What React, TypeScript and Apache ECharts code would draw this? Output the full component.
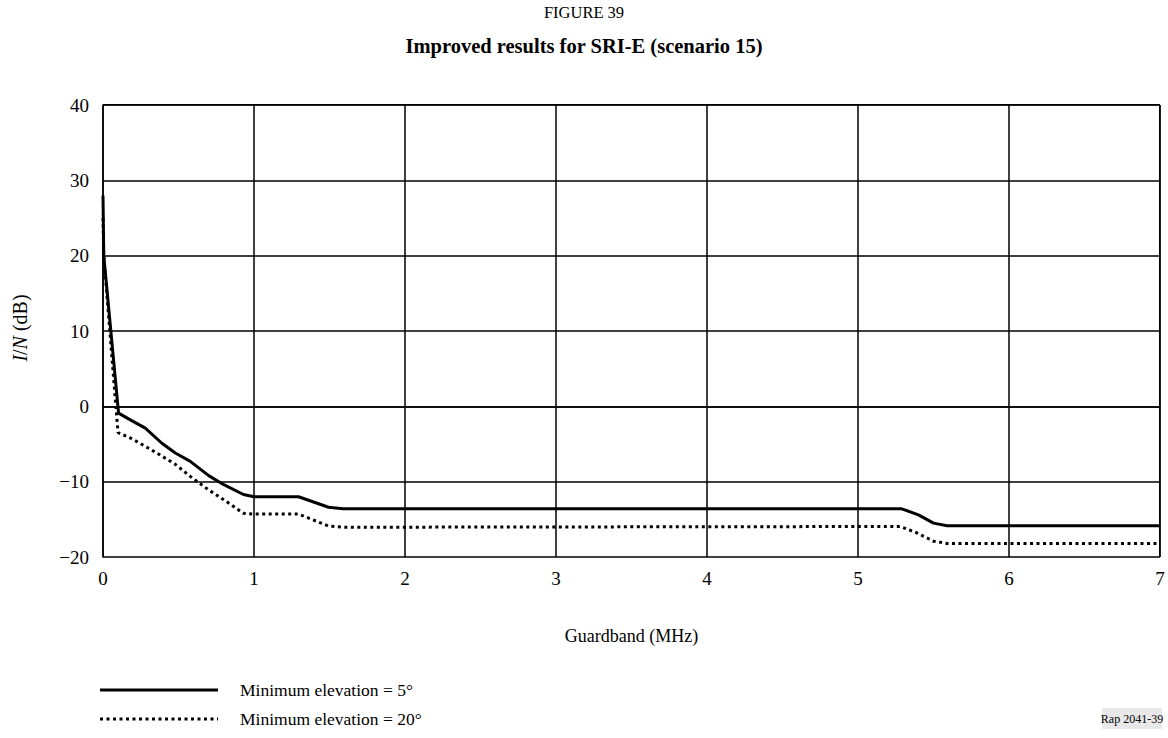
import React, { useEffect, useRef } from "react";
import * as echarts from "echarts";

const xTicks = [0, 1, 2, 3, 4, 5, 6, 7];
const yTicks = [-20, -10, 0, 10, 20, 30, 40];

const elev5X = [0, 0.005, 0.103, 0.181, 0.28, 0.39, 0.479, 0.578, 0.7, 0.8, 0.93, 1.0, 1.295, 1.494, 1.59, 5.29, 5.4, 5.5, 5.59, 7];
const elev5Y = [28, 20, -0.9, -1.8, -2.9, -4.9, -6.2, -7.3, -9.2, -10.4, -11.7, -12, -12, -13.4, -13.6, -13.6, -14.4, -15.5, -15.85, -15.85];

const elev20X = [0, 0.005, 0.095, 0.1, 0.181, 0.28, 0.39, 0.479, 0.578, 0.7, 0.8, 0.93, 1.0, 1.295, 1.494, 1.59, 5.28, 5.39, 5.5, 5.59, 7];
const elev20Y = [25, 20, -2.4, -3.5, -4.2, -5.3, -6.6, -7.7, -9.3, -11.1, -12.4, -14.2, -14.3, -14.3, -15.9, -16.05, -15.95, -16.8, -17.9, -18.2, -18.2];

const seriesNames = ["Minimum elevation = 5°", "Minimum elevation = 20°"];
const titleLines = ["FIGURE 39", "Improved results for SRI-E (scenario 15)"];
const xAxisName = "Guardband (MHz)";
const refLabel = "Rap 2041-39";

const FONT = "'Liberation Serif', 'Times New Roman', serif";

export default function App() {
  const ref = useRef<HTMLDivElement>(null);
  useEffect(() => {
    if (!ref.current) return;
    const chart = echarts.init(ref.current, undefined, { renderer: "svg" });
    const d5 = elev5X.map((x, i) => [x, elev5Y[i]]);
    const d20 = elev20X.map((x, i) => [x, elev20Y[i]]);
    chart.setOption({
      animation: false,
      backgroundColor: "#ffffff",
      grid: { left: 103, right: 8, top: 105, bottom: 181, containLabel: false },
      xAxis: {
        type: "value",
        min: xTicks[0],
        max: xTicks[xTicks.length - 1],
        interval: 1,
        axisLine: { show: true, lineStyle: { color: "#000", width: 1.5 } },
        axisTick: { show: false },
        axisLabel: { color: "#000", fontFamily: FONT, fontSize: 19, margin: 12 },
        splitLine: { show: true, lineStyle: { color: "#000", width: 1.5 } },
        name: xAxisName,
        nameLocation: "middle",
        nameGap: 70,
        nameTextStyle: { color: "#000", fontFamily: FONT, fontSize: 18 },
      },
      yAxis: {
        type: "value",
        min: yTicks[0],
        max: yTicks[yTicks.length - 1],
        interval: 10,
        axisLine: { show: true, lineStyle: { color: "#000", width: 1.5 } },
        axisTick: { show: false },
        axisLabel: {
          color: "#000",
          fontFamily: FONT,
          fontSize: 19,
          margin: 14,
          formatter: (v: number) => String(v).replace("-", "\u2212"),
        },
        splitLine: { show: true, lineStyle: { color: "#000", width: 1.5 } },
      },
      graphic: [
        { type: "rect", left: 1159, top: 105, shape: { width: 1.5, height: 452 }, style: { fill: "#000" } },
        { type: "rect", left: 103, top: 104, shape: { width: 1057, height: 1.5 }, style: { fill: "#000" } },
        { type: "text", x: 584, y: 12, style: { text: titleLines[0], font: `16.5px ${FONT}`, fill: "#000", textAlign: "center", textVerticalAlign: "middle" } },
        { type: "text", x: 584, y: 46, style: { text: titleLines[1], font: `bold 20.5px ${FONT}`, fill: "#000", textAlign: "center", textVerticalAlign: "middle" } },
        {
          type: "group",
          x: 20,
          y: 328,
          rotation: Math.PI / 2,
          children: [
            {
              type: "text",
              x: 0,
              y: 0,
              style: {
                rich: {
                  i: { font: `italic 20px ${FONT}`, fill: "#000" },
                  n: { font: `20px ${FONT}`, fill: "#000" },
                },
                text: "{i|I}{n|/}{i|N}{n| (dB)}",
                textAlign: "center",
                textVerticalAlign: "middle",
              },
            },
          ],
        },
        { type: "line", shape: { x1: 100, y1: 690, x2: 218, y2: 690 }, style: { stroke: "#000", lineWidth: 3 } },
        { type: "line", shape: { x1: 100, y1: 719, x2: 218, y2: 719 }, style: { stroke: "#000", lineWidth: 3, lineDash: [3, 3.5] } },
        { type: "text", x: 240, y: 690, style: { text: seriesNames[0], font: `17.5px ${FONT}`, fill: "#000", textVerticalAlign: "middle" } },
        { type: "text", x: 240, y: 719, style: { text: seriesNames[1], font: `17.5px ${FONT}`, fill: "#000", textVerticalAlign: "middle" } },
        { type: "rect", left: 1102, top: 708, shape: { width: 60, height: 21 }, style: { fill: "#e8e8e8" } },
        { type: "text", x: 1132, y: 719, style: { text: refLabel, font: `12px ${FONT}`, fill: "#000", textAlign: "center", textVerticalAlign: "middle" } },
      ],
      series: [
        {
          name: seriesNames[0],
          type: "line",
          data: d5,
          showSymbol: false,
          symbol: "none",
          lineStyle: { color: "#000", width: 3, type: "solid" },
          z: 5,
        },
        {
          name: seriesNames[1],
          type: "line",
          data: d20,
          showSymbol: false,
          symbol: "none",
          lineStyle: { color: "#000", width: 3, type: [3, 3.5] },
          z: 4,
        },
      ],
    });
    return () => chart.dispose();
  }, []);
  return (
    <div
      ref={ref}
      style={{ position: "fixed", left: 0, top: 0, width: 1168, height: 738, background: "#fff" }}
    />
  );
}
